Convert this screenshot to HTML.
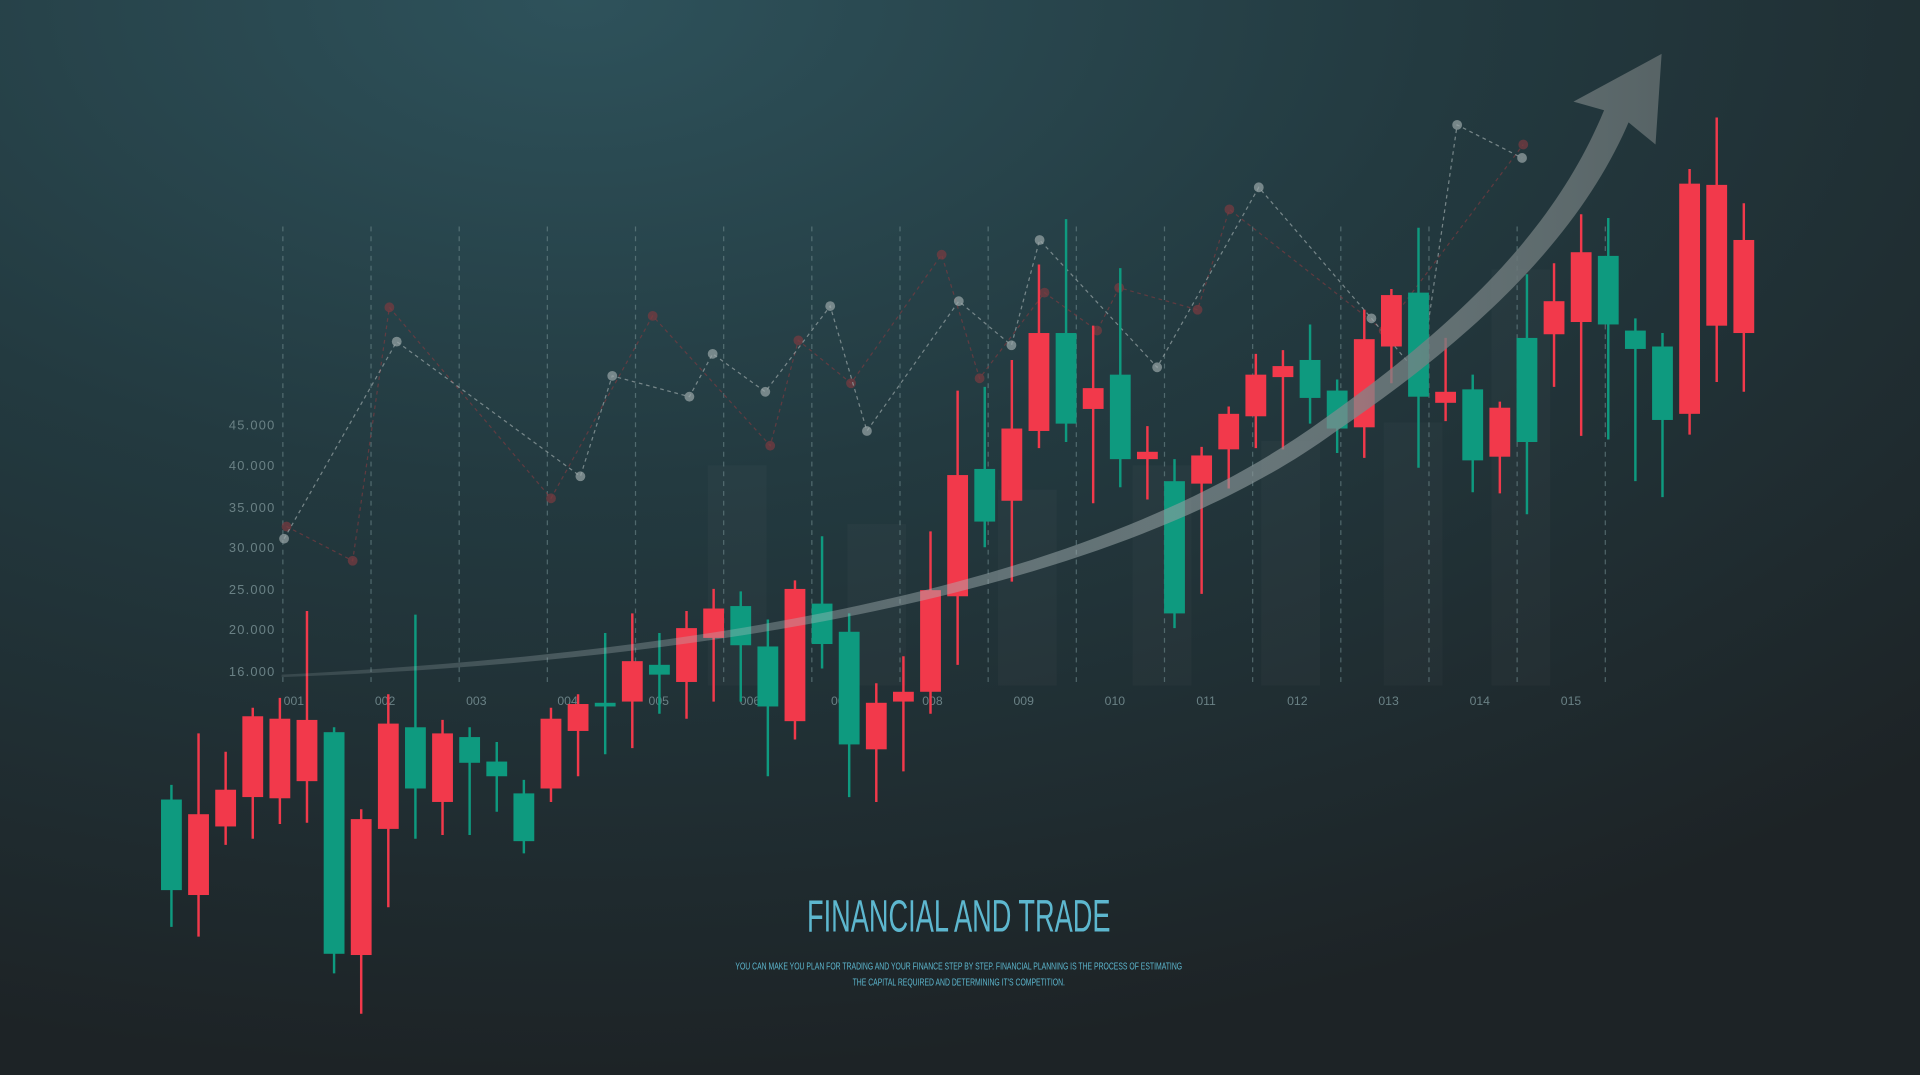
<!DOCTYPE html>
<html><head><meta charset="utf-8"><style>
html,body{margin:0;padding:0;width:1920px;height:1075px;overflow:hidden;background:#1f2529;}
svg{display:block}
</style></head><body>
<svg id="chart" width="1920" height="1075" viewBox="0 0 1568 878" preserveAspectRatio="none" xmlns="http://www.w3.org/2000/svg">
<defs>
<radialGradient id="bg" cx="0.3" cy="0" r="1.0">
<stop offset="0" stop-color="#2e525b"/><stop offset="0.45" stop-color="#233a40"/><stop offset="1" stop-color="#1d2326"/>
</radialGradient>
<linearGradient id="arr" x1="0" y1="0" x2="1" y2="0">
<stop offset="0" stop-color="#b8c4c6" stop-opacity="0.15"/><stop offset="0.5" stop-color="#a9b6b8" stop-opacity="0.45"/><stop offset="1" stop-color="#5a6668" stop-opacity="0.95"/>
</linearGradient>
</defs>
<rect width="1568" height="878" fill="url(#bg)"/>
<g id="grid"></g>
<g id="lines"></g>
<g id="candles"></g>
<path d="M230,551 C600,532 900,474 1080,343 C1200,258 1272,182 1310,90 L1285,83 L1357,44 L1352,118 L1330,100 C1292,188 1215,268 1090,353 C920,477 600,540 230,553 Z" fill="url(#arr)"/>
<text x="783" y="761" text-anchor="middle" font-family="'Liberation Sans Narrow','Liberation Sans',sans-serif" font-size="37" fill="#5db7cf" transform="translate(783,0) scale(0.6,1) translate(-783,0)">FINANCIAL AND TRADE</text>
<g transform="translate(783,0) scale(0.7,1) translate(-783,0)">
<text x="783" y="792" text-anchor="middle" font-family="'Liberation Sans Narrow','Liberation Sans',sans-serif" font-size="8" fill="#5db7cf">YOU CAN MAKE YOU PLAN FOR TRADING AND YOUR FINANCE STEP BY STEP. FINANCIAL PLANNING IS THE PROCESS OF ESTIMATING</text>
<text x="783" y="805" text-anchor="middle" font-family="'Liberation Sans Narrow','Liberation Sans',sans-serif" font-size="8" fill="#5db7cf">THE CAPITAL REQUIRED AND DETERMINING IT'S COMPETITION.</text>
</g>
</svg>
<script>
// candle values: v = 900 - displayed y
const candleOpen  = [247,235,225,249,248,262,121,231,223,306,245,298,266,213,256,303,323,327,349,343,379,373,323,311,374,292,288,327,335,413,474,491,548,554,566,525,525,399,505,533,560,592,575,550,551,617,576,571,524,527,539,627,637,635,615,557,562,634,628];
const candleClose = [173,169,255,315,313,312,302,120,309,256,301,277,278,252,313,325,326,360,357,387,403,405,372,419,407,384,326,335,418,512,517,550,628,628,583,594,531,507,528,562,594,601,606,581,623,659,661,580,582,567,624,654,694,691,630,617,750,749,704];
const candleHigh  = [259,301,286,322,330,401,306,239,333,398,312,306,294,263,322,333,383,399,383,401,419,417,394,426,462,399,342,364,466,581,584,606,684,721,634,681,552,525,535,568,611,614,635,590,647,664,714,624,594,572,676,685,725,722,640,628,762,804,734];
const candleLow   = [143,135,210,215,227,228,105,72,159,215,218,218,237,203,245,266,284,289,317,313,327,327,266,296,354,249,245,270,317,357,453,425,534,539,489,502,492,387,415,501,534,533,554,530,526,587,518,556,498,497,480,584,544,541,507,494,545,588,580];
const candleUp    = [0,1,1,1,1,1,0,1,1,0,1,0,0,0,1,1,0,1,0,1,1,0,0,1,0,0,1,1,1,1,0,1,1,0,1,0,1,0,1,1,1,1,0,0,1,1,0,1,0,1,0,1,1,0,0,0,1,1,1];
const greySeriesX = [232,324,474,500,563,582,625,678,708,783,826,849,945,1028,1120,1160,1190,1243];
const greySeriesV = [460,621,511,593,576,611,580,650,548,654,618,704,600,747,640,592,798,771];
const redSeriesX  = [234,288,318,450,533,629,652,695,769,800,853,896,914,978,1004,1130,1244];
const redSeriesV  = [470,442,649,493,642,536,622,587,692,591,661,630,665,647,729,630,782];
const xTickLabels = ["001","002","003","004","005","006","007","008","009","010","011","012","013","014","015"];
const yTickLabels = ["16.000","20.000","25.000","30.000","35.000","40.000","45.000"];
const yTickValues = [352,386,419,453,486,520,553];

const NS="http://www.w3.org/2000/svg";
function yS(v){return 900-v;}
function xC(i){return 140+i*22.14;}
function mk(tag,attrs,parent){const e=document.createElementNS(NS,tag);for(const k in attrs)e.setAttribute(k,attrs[k]);parent.appendChild(e);return e;}
const grid=document.getElementById('grid'),lines=document.getElementById('lines'),cg=document.getElementById('candles');
[[578,380],[692,428],[815,400],[925,380],[1030,360],[1130,345],[1218,220]].forEach(function(b){
 const r=mk('rect',{x:b[0],y:b[1],width:48,height:560-b[1],fill:'#ffffff','fill-opacity':0.025},grid);
 
 
});
for(let i=0;i<16;i++){
 const x=231+i*72;
 const l=mk('line',{x1:x,x2:x,y1:185,y2:560,stroke:'#6f8a8e','stroke-width':1,'stroke-dasharray':'4 4','stroke-opacity':0.6},grid);
 
 
}
xTickLabels.forEach(function(t,i){
 const e=mk('text',{x:240+i*74.5,y:576,'text-anchor':'middle','font-family':'Liberation Sans,sans-serif','font-size':10,fill:'#6a8185'},grid);
 e.textContent=t;
 
 
});
yTickLabels.forEach(function(t,i){
 const e=mk('text',{x:225,y:yS(yTickValues[i])+4,'text-anchor':'end','font-family':'Liberation Sans,sans-serif','font-size':10.5,fill:'#6a8185','letter-spacing':1},grid);
 e.textContent=t;
 
 
});
function series(xs,vs,col,name){
 const pts=xs.map(function(x,i){return x+','+yS(vs[i]);}).join(' ');
 const p=mk('polyline',{points:pts,fill:'none',stroke:col,'stroke-width':1,'stroke-dasharray':'3 3','stroke-opacity':0.7},lines);
 
 
 xs.forEach(function(x,i){
  const c=mk('circle',{cx:x,cy:yS(vs[i]),r:4,fill:col,'fill-opacity':0.7},lines);
  
  
 });
}
series(redSeriesX,redSeriesV,'#7a3a40','red-series');
series(greySeriesX,greySeriesV,'#9aa6a8','grey-series');
candleOpen.forEach(function(o,i){
 const c=candleClose[i],col=candleUp[i]?'#f2394b':'#0e9a7f',x=xC(i);
 const g=mk('g',{},cg);
 
 
 mk('line',{x1:x,x2:x,y1:yS(candleHigh[i]),y2:yS(candleLow[i]),stroke:col,'stroke-width':2},g);
 const top=Math.min(yS(o),yS(c)),h=Math.max(3,Math.abs(yS(o)-yS(c)));
 mk('rect',{x:x-8.5,y:top,width:17,height:h,fill:col},g);
});
</script>
</body></html>
